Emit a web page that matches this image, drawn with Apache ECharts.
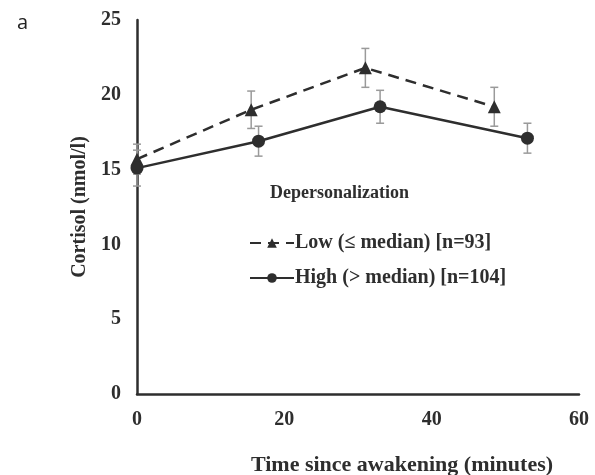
<!DOCTYPE html>
<html>
<head>
<meta charset="utf-8">
<script src="https://cdn.jsdelivr.net/npm/echarts@6/dist/echarts.min.js"></script>
<style>
  html, body { margin: 0; padding: 0; background: #fff; }
  #main { width: 595px; height: 475px; }
</style>
</head>
<body>
<div id="main"></div>
<script>
// Low group (<= median), dashed line + triangles
var lowTime = [0, 15.5, 31, 48.5]
var lowMean = [15.7, 19.0, 21.8, 19.2]
var lowErr = [1.0, 1.25, 1.3, 1.3]

// High group (> median), solid line + circles
var highTime = [0, 16.5, 33, 53]
var highMean = [15.1, 16.9, 19.2, 17.1]
var highErr = [1.2, 1.0, 1.1, 1.0]

var lowName = 'Low (≤ median) [n=93]'
var highName = 'High (> median) [n=104]'

function pairs(xs, ys) {
    var out = []
    for (var i = 0; i < xs.length; i++) {
        out.push([xs[i], ys[i]])
    }
    return out
}

function errData(xs, ys, es) {
    var out = []
    for (var i = 0; i < xs.length; i++) {
        out.push([xs[i], ys[i] - es[i], ys[i] + es[i]])
    }
    return out
}

function errorBar(params, api) {
    var x = api.value(0)
    var lo = api.coord([x, api.value(1)])
    var hi = api.coord([x, api.value(2)])
    var cap = 4
    var style = { stroke: '#9a9a9a', lineWidth: 1.5, fill: null }
    return {
        type: 'group',
        children: [
            { type: 'line', shape: { x1: lo[0], y1: lo[1], x2: hi[0], y2: hi[1] }, style: style },
            { type: 'line', shape: { x1: lo[0] - cap, y1: lo[1], x2: lo[0] + cap, y2: lo[1] }, style: style },
            { type: 'line', shape: { x1: hi[0] - cap, y1: hi[1], x2: hi[0] + cap, y2: hi[1] }, style: style }
        ]
    }
}

var serif = 'Liberation Serif'
var ink = '#2e2e2e'

var chart = echarts.init(document.getElementById('main'))

var option = {
    backgroundColor: '#fff',
    animation: false,
    title: [
        {
            text: 'a',
            left: 12,
            top: 8,
            textStyle: { fontFamily: 'Open Sans', fontSize: 20, fontWeight: 'normal', color: '#222' }
        },
        {
            text: 'Depersonalization',
            left: 265,
            top: 179,
            textStyle: { fontFamily: serif, fontSize: 18, fontWeight: 'bold', color: ink }
        }
    ],
    grid: { left: 137, right: 16, top: 20, bottom: 81, outerBoundsMode: 'none' },
    legend: {
        orient: 'vertical',
        left: 244,
        top: 228,
        itemWidth: 44,
        itemHeight: 12,
        itemGap: 15,
        textStyle: { fontFamily: serif, fontSize: 20, fontWeight: 'bold', color: ink, padding: [0, 0, 0, -4] },
        data: [lowName, highName]
    },
    xAxis: {
        type: 'value',
        min: 0,
        max: 60,
        interval: 20,
        name: 'Time since awakening (minutes)',
        nameLocation: 'middle',
        nameGap: 60,
        nameTextStyle: { fontFamily: serif, fontSize: 22, fontWeight: 'bold', color: ink, padding: [0, 0, 0, 88] },
        axisLine: { lineStyle: { color: ink, width: 2.5 } },
        axisTick: { show: false },
        splitLine: { show: false },
        axisLabel: { margin: 16, fontFamily: serif, fontSize: 20, fontWeight: 'bold', color: ink }
    },
    yAxis: {
        type: 'value',
        min: 0,
        max: 25,
        interval: 5,
        name: 'Cortisol (nmol/l)',
        nameLocation: 'middle',
        nameGap: 40,
        nameTextStyle: { fontFamily: serif, fontSize: 20, fontWeight: 'bold', color: ink },
        axisLine: { show: true, lineStyle: { color: ink, width: 2.5 } },
        axisTick: { show: false },
        splitLine: { show: false },
        axisLabel: { margin: 16, fontFamily: serif, fontSize: 20, fontWeight: 'bold', color: ink }
    },
    series: [
        {
            type: 'custom',
            renderItem: errorBar,
            data: errData(lowTime, lowMean, lowErr),
            encode: { x: 0, y: [1, 2] },
            z: 1
        },
        {
            type: 'custom',
            renderItem: errorBar,
            data: errData(highTime, highMean, highErr),
            encode: { x: 0, y: [1, 2] },
            z: 1
        },
        {
            name: lowName,
            type: 'line',
            data: pairs(lowTime, lowMean),
            symbol: 'triangle',
            symbolSize: 13,
            itemStyle: { color: ink },
            lineStyle: { color: ink, width: 2.5, type: [11, 7] },
            z: 3
        },
        {
            name: highName,
            type: 'line',
            data: pairs(highTime, highMean),
            symbol: 'circle',
            symbolSize: 13,
            itemStyle: { color: ink },
            lineStyle: { color: ink, width: 2.5 },
            z: 3
        }
    ]
}

chart.setOption(option)
</script>
</body>
</html>
